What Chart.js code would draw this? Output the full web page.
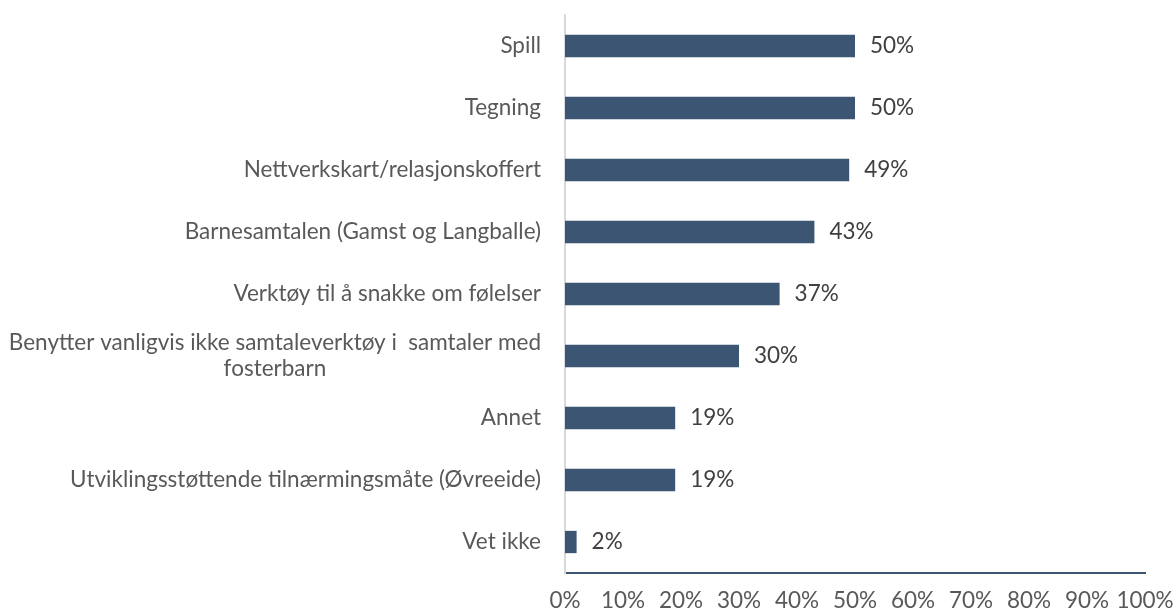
<!DOCTYPE html>
<html>
<head>
<meta charset="utf-8">
<script src="https://cdn.jsdelivr.net/npm/chart.js@4"></script>
<style>
  html, body { margin: 0; padding: 0; background: #fff; }
  #wrap { width: 1175px; height: 612px; position: relative; }
</style>
</head>
<body>
<div id="wrap"><canvas id="chart"></canvas></div>
<script>
const categories = [
  "Spill",
  "Tegning",
  "Nettverkskart/relasjonskoffert",
  "Barnesamtalen (Gamst og Langballe)",
  "Verktøy til å snakke om følelser",
  ["Benytter vanligvis ikke samtaleverktøy i  samtaler med", "fosterbarn"],
  "Annet",
  "Utviklingsstøttende tilnærmingsmåte (Øvreeide)",
  "Vet ikke",
];
const shares = [50, 50, 49, 43, 37, 30, 19, 19, 2];
const xTicks = [0, 10, 20, 30, 40, 50, 60, 70, 80, 90, 100];

const FONT = "Lato, 'Open Sans', sans-serif";
const barColor = "#3b5573";

// y labels drawn by hand so the two-line one is centred like the original
const categoryLabels = {
  id: "categoryLabels",
  afterDraw(chart) {
    const ctx = chart.ctx;
    const y = chart.scales.y;
    const right = chart.chartArea.left - 24;
    ctx.save();
    ctx.font = "22.5px " + FONT;
    ctx.fillStyle = "#595959";
    ctx.textBaseline = "middle";
    ctx.textAlign = "center";
    categories.forEach((lab, i) => {
      const lines = Array.isArray(lab) ? lab : [lab];
      const w = Math.max(...lines.map((l) => ctx.measureText(l).width));
      const cy = y.getPixelForValue(i);
      const lh = 26;
      lines.forEach((l, k) => {
        const ly = cy + (k - (lines.length - 1) / 2) * lh;
        ctx.fillText(l, right - w / 2, ly);
      });
    });
    ctx.restore();
  },
};

const valueLabels = {
  id: "valueLabels",
  afterDatasetsDraw(chart) {
    const ctx = chart.ctx;
    const meta = chart.getDatasetMeta(0);
    ctx.save();
    ctx.font = "22.5px " + FONT;
    ctx.fillStyle = "#404040";
    ctx.textBaseline = "middle";
    ctx.textAlign = "left";
    meta.data.forEach((bar, i) => {
      ctx.fillText(shares[i] + "%", bar.x + 15, bar.y);
    });
    ctx.restore();
  },
};

new Chart(document.getElementById("chart"), {
  type: "bar",
  data: {
    labels: categories,
    datasets: [
      {
        data: shares,
        backgroundColor: barColor,
        barPercentage: 0.36,
        categoryPercentage: 1,
      },
    ],
  },
  options: {
    indexAxis: "y",
    responsive: true,
    maintainAspectRatio: false,
    animation: false,
    layout: { padding: { top: 15, right: 30, bottom: 0, left: 0 } },
    plugins: {
      legend: { display: false },
      tooltip: { enabled: false },
    },
    scales: {
      x: {
        min: 0,
        max: 100,
        afterBuildTicks: (scale) => {
          scale.ticks = xTicks.map((v) => ({ value: v }));
        },
        afterFit: (scale) => {
          scale.height = 39;
          scale.paddingLeft = 0;
          scale.paddingRight = 0;
        },
        grid: { display: false, drawTicks: false },
        border: { display: true, color: barColor, width: 2 },
        ticks: {
          padding: 14,
          color: "#595959",
          font: { family: FONT, size: 22.5 },
          callback: (v) => v + "%",
          maxRotation: 0,
          autoSkip: false,
        },
      },
      y: {
        grid: { display: false, drawTicks: false },
        border: { display: true, color: "#d9d9d9", width: 2 },
        ticks: { display: false },
        afterFit: (scale) => {
          scale.width = 565;
        },
      },
    },
  },
  plugins: [categoryLabels, valueLabels],
});
</script>
</body>
</html>
